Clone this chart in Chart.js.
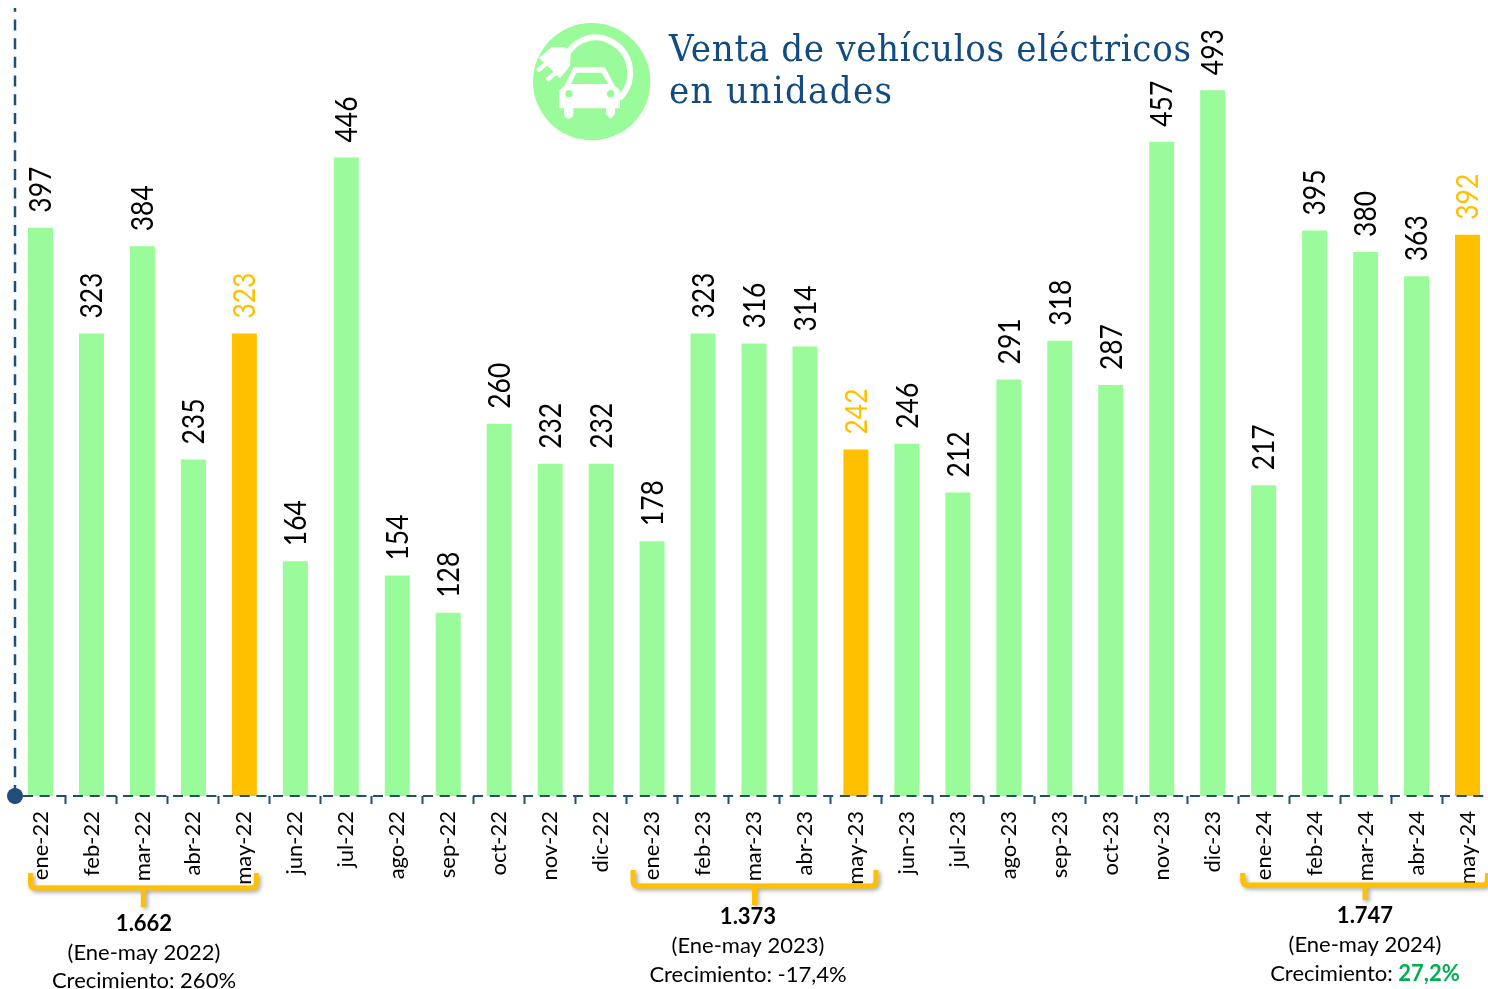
<!DOCTYPE html>
<html>
<head>
<meta charset="utf-8">
<title>Venta de vehículos eléctricos</title>
<script src="https://cdn.jsdelivr.net/npm/chart.js@4/dist/chart.umd.min.js"></script>
<style>
  html, body { margin: 0; padding: 0; background: #fff; overflow: hidden; }
  #marco { width: 1493px; height: 989px; }
  #chart { display: block; }
</style>
</head>
<body>
<div id="marco"><canvas id="chart" width="1493" height="989"></canvas></div>
<script>
const months = [
  "ene-22", "feb-22", "mar-22", "abr-22", "may-22", "jun-22", "jul-22", "ago-22", "sep-22", "oct-22", "nov-22", "dic-22",
  "ene-23", "feb-23", "mar-23", "abr-23", "may-23", "jun-23", "jul-23", "ago-23", "sep-23", "oct-23", "nov-23", "dic-23",
  "ene-24", "feb-24", "mar-24", "abr-24", "may-24",
];
const ventas = [
  397, 323, 384, 235, 323, 164, 446, 154, 128, 260, 232, 232,
  178, 323, 316, 314, 242, 246, 212, 291, 318, 287, 457, 493,
  217, 395, 380, 363, 392,
];
const titulo = ["Venta de vehículos eléctricos", "en unidades"];
const grupoInicio = ["ene-22", "ene-23", "ene-24"];
const grupoFin = ["may-22", "may-23", "may-24"];
const grupoTotal = ["1.662", "1.373", "1.747"];
const grupoPeriodo = ["(Ene-may 2022)", "(Ene-may 2023)", "(Ene-may 2024)"];
const grupoCrecimiento = ["260%", "-17,4%", "27,2%"];

const VERDE = "#99FB99";
const NARANJA = "#FFC000";
const AZUL = "#1F4E79";
const AZUL_TITULO = "#114B82";
const FUENTE = "Lato, sans-serif";

// bracket and text placement of each group, in pixels
const llaves = [
  { izq: -10, der: 12, arriba: 873, abajo: 888, punta: 907, centro: 144, textoY: [924, 953, 981] },
  { izq: -19, der: 20, arriba: 870, abajo: 886, punta: 905, centro: 755, textoY: [917, 946, 975], textoX: 748 },
  { izq: -21, der: 20, arriba: 873, abajo: 885, punta: 900, centro: 1365, textoY: [916, 945, 974] },
];

const esMayo = (m) => m.startsWith("may");

const etiquetasBarras = {
  id: "etiquetasBarras",
  afterDatasetsDraw(chart) {
    const { ctx } = chart;
    const meta = chart.getDatasetMeta(0);
    ctx.save();
    ctx.font = `27px ${FUENTE}`;
    ctx.textAlign = "left";
    ctx.textBaseline = "middle";
    meta.data.forEach((bar, i) => {
      ctx.save();
      ctx.translate(bar.x + 1, bar.y - 15);
      ctx.rotate(-Math.PI / 2);
      // the original labels are stretched across their height
      ctx.scale(0.98, 1.12);
      ctx.fillStyle = esMayo(months[i]) ? NARANJA : "#000";
      ctx.fillText(String(ventas[i]), 0, 0);
      ctx.restore();
    });
    ctx.restore();
  },
};

const ejes = {
  id: "ejes",
  afterDraw(chart) {
    const { ctx, chartArea } = chart;
    ctx.save();
    ctx.strokeStyle = AZUL;
    ctx.lineWidth = 2.5;
    ctx.setLineDash([11, 7.67]);
    ctx.beginPath();
    ctx.moveTo(chartArea.left, chartArea.bottom);
    ctx.lineTo(chartArea.left, 8);
    ctx.stroke();
    ctx.lineWidth = 2;
    ctx.setLineDash([10, 6.67]);
    ctx.beginPath();
    ctx.moveTo(chartArea.left + 8, chartArea.bottom);
    ctx.lineTo(chartArea.right, chartArea.bottom);
    ctx.stroke();
    ctx.setLineDash([]);
    ctx.fillStyle = AZUL;
    ctx.beginPath();
    ctx.arc(chartArea.left, chartArea.bottom, 8, 0, Math.PI * 2);
    ctx.fill();
    ctx.restore();
  },
};

const llavesGrupos = {
  id: "llavesGrupos",
  afterDraw(chart) {
    const { ctx } = chart;
    const x = chart.scales.x;
    llaves.forEach((ll, g) => {
      const x0 = x.getPixelForValue(months.indexOf(grupoInicio[g])) + ll.izq;
      const x1 = x.getPixelForValue(months.indexOf(grupoFin[g])) + ll.der;
      const xm = (x0 + x1) / 2;
      const xt = ll.textoX || ll.centro;
      ctx.save();
      ctx.strokeStyle = NARANJA;
      ctx.lineWidth = 5;
      ctx.shadowColor = "rgba(0,0,0,0.35)";
      ctx.shadowBlur = 4;
      ctx.shadowOffsetX = 2;
      ctx.shadowOffsetY = 2;
      ctx.beginPath();
      ctx.moveTo(x0, ll.arriba);
      ctx.lineTo(x0, ll.abajo - 5);
      ctx.quadraticCurveTo(x0, ll.abajo, x0 + 5, ll.abajo);
      ctx.lineTo(x1 - 5, ll.abajo);
      ctx.quadraticCurveTo(x1, ll.abajo, x1, ll.abajo - 5);
      ctx.lineTo(x1, ll.arriba);
      ctx.moveTo(xm, ll.abajo);
      ctx.lineTo(xm, ll.punta);
      ctx.stroke();
      ctx.restore();

      ctx.save();
      ctx.textBaseline = "middle";
      ctx.textAlign = "center";
      ctx.fillStyle = "#000";
      ctx.font = `bold 22px ${FUENTE}`;
      ctx.fillText(grupoTotal[g], xt, ll.textoY[0]);
      ctx.font = `22px ${FUENTE}`;
      ctx.fillText(grupoPeriodo[g], xt, ll.textoY[1]);
      // last group has its growth figure in bold green
      const previo = "Crecimiento: ";
      if (g === 2) {
        ctx.textAlign = "left";
        const a = ctx.measureText(previo).width;
        ctx.font = `bold 22px ${FUENTE}`;
        const b = ctx.measureText(grupoCrecimiento[g]).width;
        const inicio = xt - (a + b) / 2;
        ctx.fillStyle = "#00B050";
        ctx.fillText(grupoCrecimiento[g], inicio + a, ll.textoY[2]);
        ctx.font = `22px ${FUENTE}`;
        ctx.fillStyle = "#000";
        ctx.fillText(previo, inicio, ll.textoY[2]);
      } else {
        ctx.fillText(previo + grupoCrecimiento[g], xt, ll.textoY[2]);
      }
      ctx.restore();
    });
  },
};

const cabecera = {
  id: "cabecera",
  afterDraw(chart) {
    const { ctx } = chart;
    ctx.save();
    ctx.fillStyle = AZUL_TITULO;
    ctx.font = '38px "DejaVu Serif Condensed", "Liberation Serif", serif';
    ctx.textBaseline = "alphabetic";
    ctx.letterSpacing = "0.65px";
    ctx.fillText(titulo[0], 669, 61);
    ctx.letterSpacing = "1.3px";
    ctx.fillText(titulo[1], 669, 103);
    ctx.restore();

    // icon, coordinates traced at 3x
    ctx.save();
    ctx.translate(520, 10);
    ctx.scale(1 / 3, 1 / 3);
    ctx.fillStyle = VERDE;
    ctx.beginPath();
    ctx.arc(215, 215, 176, 0, Math.PI * 2);
    ctx.fill();

    ctx.strokeStyle = "#fff";
    ctx.fillStyle = "#fff";
    ctx.lineWidth = 18;
    ctx.beginPath();
    ctx.moveTo(145, 125);
    ctx.bezierCurveTo(175, 85, 225, 72, 265, 90);
    ctx.bezierCurveTo(340, 125, 350, 215, 298, 265);
    ctx.stroke();

    // plug
    ctx.beginPath();
    ctx.moveTo(57, 143);
    ctx.lineTo(95, 112);
    ctx.lineTo(135, 112);
    ctx.lineTo(152, 130);
    ctx.lineTo(150, 168);
    ctx.lineTo(120, 205);
    ctx.closePath();
    ctx.fill();
    ctx.lineWidth = 13;
    ctx.beginPath();
    ctx.moveTo(78, 162);
    ctx.lineTo(52, 182);
    ctx.moveTo(105, 190);
    ctx.lineTo(80, 211);
    ctx.stroke();

    // car
    ctx.beginPath();
    ctx.moveTo(160, 172);
    ctx.lineTo(255, 172);
    ctx.lineTo(285, 228);
    ctx.lineTo(300, 240);
    ctx.lineTo(300, 295);
    ctx.lineTo(285, 295);
    ctx.lineTo(285, 312);
    ctx.lineTo(272, 326);
    ctx.lineTo(258, 312);
    ctx.lineTo(258, 295);
    ctx.lineTo(160, 295);
    ctx.lineTo(160, 312);
    ctx.arc(146, 312, 14, 0, Math.PI);
    ctx.lineTo(132, 295);
    ctx.lineTo(118, 295);
    ctx.lineTo(118, 240);
    ctx.lineTo(133, 228);
    ctx.closePath();
    ctx.fill();

    ctx.fillStyle = VERDE;
    ctx.beginPath();
    ctx.moveTo(170, 188);
    ctx.lineTo(245, 188);
    ctx.lineTo(265, 222);
    ctx.lineTo(152, 222);
    ctx.closePath();
    ctx.fill();
    ctx.beginPath();
    ctx.arc(147, 251, 11, 0, Math.PI * 2);
    ctx.arc(272, 251, 11, 0, Math.PI * 2);
    ctx.fill();
    ctx.restore();
  },
};

new Chart(document.getElementById("chart"), {
  type: "bar",
  data: {
    labels: months,
    datasets: [
      {
        data: ventas,
        backgroundColor: months.map((m) => (esMayo(m) ? NARANJA : VERDE)),
        barPercentage: 0.49,
        categoryPercentage: 1,
      },
    ],
  },
  options: {
    responsive: false,
    animation: false,
    layout: { padding: { left: 15, right: 0, top: 0, bottom: 0 } },
    plugins: {
      legend: { display: false },
      title: { display: false },
      tooltip: { enabled: false },
    },
    scales: {
      x: {
        afterFit(scale) {
          scale.height = 193;
          // no side margin for the rotated labels, the bars run to the page edge
          scale.paddingLeft = 0;
          scale.paddingRight = 0;
        },
        grid: { drawOnChartArea: false, tickLength: 8, tickColor: AZUL, tickWidth: 2 },
        border: { display: false },
        ticks: {
          autoSkip: false,
          minRotation: 90,
          maxRotation: 90,
          padding: 7,
          color: "#000",
          font: { family: FUENTE, size: 22 },
        },
      },
      y: {
        min: 0,
        max: 556,
        afterFit(scale) {
          scale.width = 0;
        },
        grid: { display: false },
        border: { display: false },
        ticks: { display: false },
      },
    },
  },
  plugins: [etiquetasBarras, ejes, llavesGrupos, cabecera],
});
</script>
</body>
</html>
